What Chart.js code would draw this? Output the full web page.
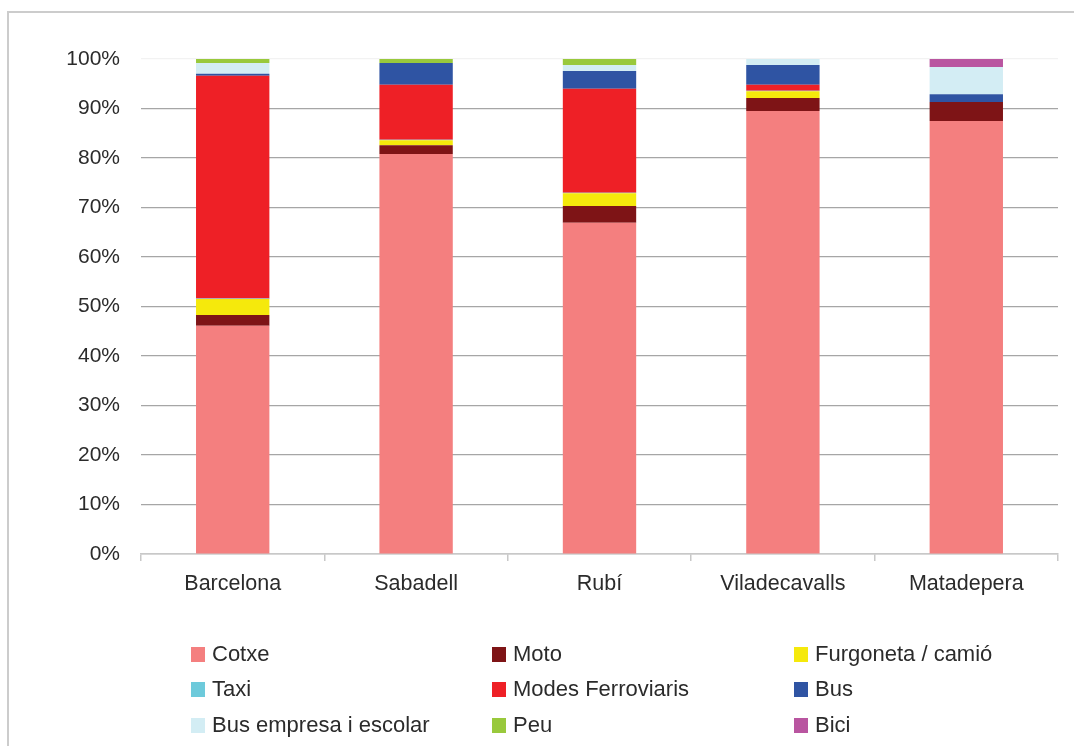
<!DOCTYPE html>
<html>
<head>
<meta charset="utf-8">
<script src="https://cdn.jsdelivr.net/npm/chart.js@4/dist/chart.umd.min.js"></script>
<style>
  html, body { margin: 0; padding: 0; background: #fff; overflow: hidden; }
  #wrap { position: relative; width: 1074px; height: 746px; overflow: hidden; font-family: "Liberation Sans", Arial, sans-serif; }
  #frame { position: absolute; left: 7px; top: 11px; width: 1100px; height: 800px; border-left: 2px solid #cccccc; border-top: 2px solid #cccccc; box-sizing: border-box; pointer-events: none; }
  #c { position: absolute; left: 0; top: 0; }
  .lg { position: absolute; height: 24px; display: flex; align-items: center; font-size: 22px; color: #2b2b2b; white-space: nowrap; }
  .lg span.box { display: inline-block; width: 14px; height: 15px; margin-right: 7px; }
</style>
</head>
<body>
<div id="wrap">
  <canvas id="c" width="1074" height="746"></canvas>
  <div id="frame"></div>
  <div id="legend"></div>
</div>
<script>
const categories = ['Barcelona', 'Sabadell', 'Rubí', 'Viladecavalls', 'Matadepera'];
const cotxe      = [46.1, 80.8, 66.9, 89.5, 87.5];
const moto       = [2.2, 1.8, 3.4, 2.6, 3.8];
const furgoneta  = [3.2, 1.0, 2.6, 1.4, 0];
const taxi       = [0.1, 0.1, 0.1, 0.1, 0];
const ferro      = [45.0, 11.1, 21.0, 1.2, 0];
const bus        = [0.4, 4.4, 3.6, 4.0, 1.6];
const busEmpresa = [2.2, 0, 1.2, 1.2, 5.5];
const peu        = [0.8, 0.8, 1.2, 0, 0];
const bici       = [0, 0, 0, 0, 1.6];
const seriesNames = ['Cotxe', 'Moto', 'Furgoneta / camió', 'Taxi', 'Modes Ferroviaris', 'Bus', 'Bus empresa i escolar', 'Peu', 'Bici'];
const seriesColors = ['#f47f7f', '#7e1416', '#f5e90c', '#6dcadb', '#ee2026', '#2f54a3', '#d3edf4', '#99c93c', '#b955a0'];
const yTicks = [0, 10, 20, 30, 40, 50, 60, 70, 80, 90, 100];

const seriesData = [cotxe, moto, furgoneta, taxi, ferro, bus, busEmpresa, peu, bici];

const datasets = seriesNames.map((n, i) => ({
  label: n,
  data: seriesData[i],
  backgroundColor: seriesColors[i],
  borderWidth: 0,
  barPercentage: 0.4,
  categoryPercentage: 1.0
}));

const FONT = { family: '"Liberation Sans", Arial, sans-serif', size: 21 };
const XFONT = { family: '"Liberation Sans", Arial, sans-serif', size: 21.5 };

new Chart(document.getElementById('c'), {
  type: 'bar',
  data: { labels: categories, datasets },
  options: {
    responsive: false,
    animation: false,
    layout: { padding: { left: 0, right: 16, top: 59, bottom: 0 } },
    plugins: { legend: { display: false }, tooltip: { enabled: false } },
    scales: {
      x: {
        stacked: true,
        grid: { drawOnChartArea: false, drawTicks: true, tickLength: 7, color: '#c8c8c8', lineWidth: 1.5, offset: true },
        border: { color: '#c8c8c8', width: 1.5 },
        ticks: { color: '#2b2b2b', font: XFONT, padding: 10 },
        afterFit: s => { s.height = 192; }
      },
      y: {
        stacked: true,
        min: 0, max: 100,
        afterBuildTicks: s => { s.ticks = yTicks.map(v => ({ value: v })); },
        grid: {
          drawTicks: false,
          color: ctx => (ctx.tick && ctx.tick.value === 100) ? '#f2f2f2' : '#a6a6a6',
          lineWidth: 1.2
        },
        border: { display: false },
        ticks: { color: '#2b2b2b', font: FONT, padding: 21, callback: v => v + '%' },
        afterFit: s => { s.width = 141; }
      }
    }
  }
});

// legend in 3 columns
const colX = [191, 492, 794];
const rowY = [642, 677, 713];
const lg = document.getElementById('legend');
seriesNames.forEach((n, i) => {
  const d = document.createElement('div');
  d.className = 'lg';
  d.style.left = colX[i % 3] + 'px';
  d.style.top = rowY[Math.floor(i / 3)] + 'px';
  d.innerHTML = '<span class="box" style="background:' + seriesColors[i] + '"></span>' + n;
  lg.appendChild(d);
});
</script>
</body>
</html>
